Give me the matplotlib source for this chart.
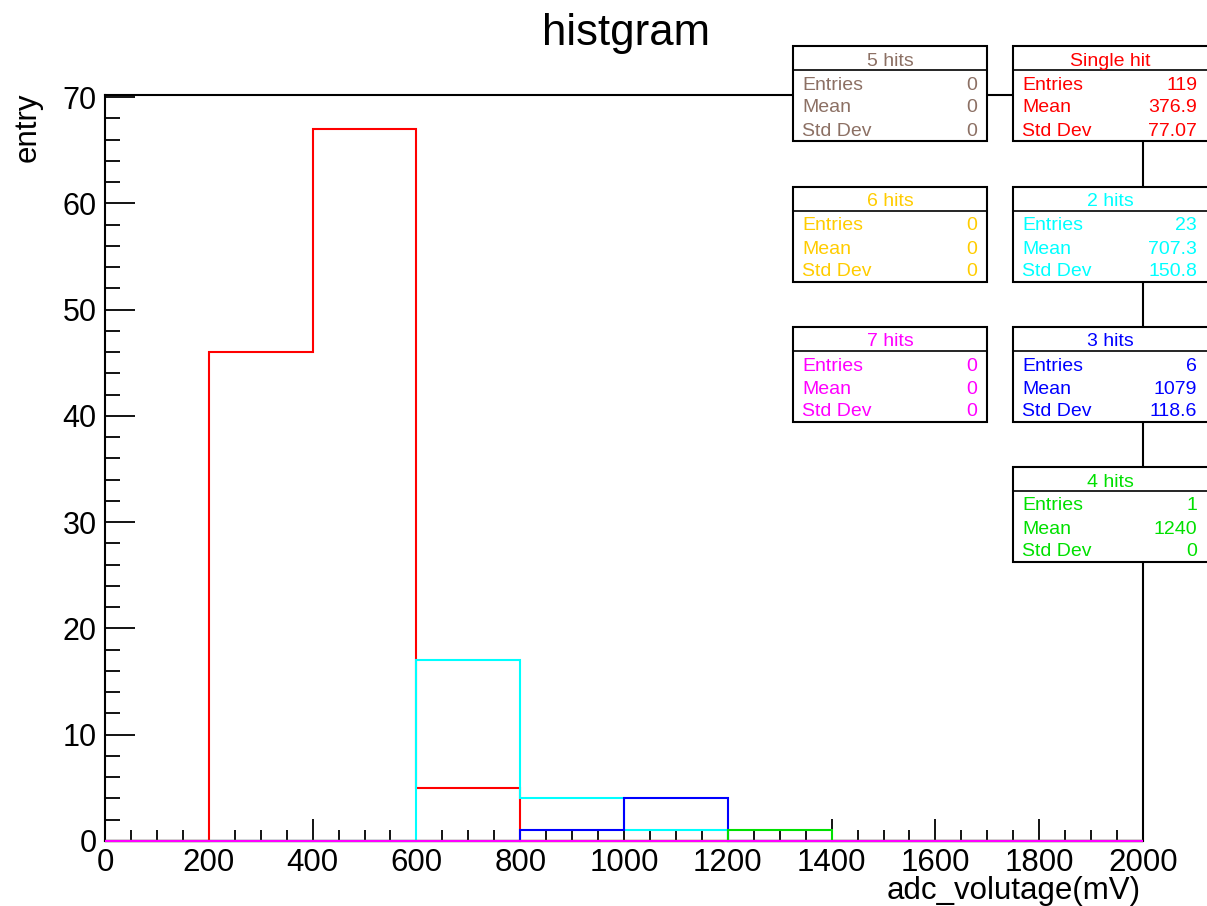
import numpy as np
import matplotlib
matplotlib.use("Agg")
import matplotlib.pyplot as plt
from matplotlib.patches import Rectangle
from matplotlib.lines import Line2D
from matplotlib.ticker import MultipleLocator

plt.rcParams['font.family'] = ['Liberation Sans', 'DejaVu Sans']

# bin edges (mV) and counts per hit multiplicity
edges = np.arange(0, 2001, 200)
single_hit = [0, 46, 67, 5, 0, 0, 0, 0, 0, 0]
hits_2 = [0, 0, 0, 17, 4, 1, 0, 0, 0, 0]
hits_3 = [0, 0, 0, 0, 1, 4, 0, 0, 0, 0]
hits_4 = [0, 0, 0, 0, 0, 0, 1, 0, 0, 0]
hits_5 = [0] * 10
hits_6 = [0] * 10
hits_7 = [0] * 10

names = ["Single hit", "2 hits", "3 hits", "4 hits", "5 hits", "6 hits", "7 hits"]
colors = ["#ff0000", "#00ffff", "#0000ff", "#00e000", "#8c7064", "#ffcc00", "#ff00ff"]
series = [single_hit, hits_2, hits_3, hits_4, hits_5, hits_6, hits_7]
entries = ["119", "23", "6", "1", "0", "0", "0"]
means = ["376.9", "707.3", "1079", "1240", "0", "0", "0"]
stddevs = ["77.07", "150.8", "118.6", "0", "0", "0", "0"]

W, H = 1207, 906
fig = plt.figure(figsize=(W / 100, H / 100), dpi=100)


def fx(x):
    return x / W


def fy(y):
    return 1 - y / H


ax = fig.add_axes([fx(105), fy(841), fx(1143) - fx(105), fy(95) - fy(841)])

for vals, c in zip(series, colors):
    ax.stairs(vals, edges, color=c, lw=1.5, zorder=3, clip_on=False)

ax.set_xlim(0, 2000)
ax.set_ylim(0, 70.2)
ax.xaxis.set_major_locator(MultipleLocator(200))
ax.xaxis.set_minor_locator(MultipleLocator(50))
ax.yaxis.set_major_locator(MultipleLocator(10))
ax.yaxis.set_minor_locator(MultipleLocator(2))
ax.tick_params(axis='x', which='major', direction='in', length=15.6, width=1.3, labelsize=22.5, pad=5)
ax.tick_params(axis='x', which='minor', direction='in', length=7.9, width=1.3)
ax.tick_params(axis='y', which='major', direction='in', length=21.6, width=1.3, labelsize=22, pad=6)
ax.tick_params(axis='y', which='minor', direction='in', length=10.8, width=1.3)
for sp in ax.spines.values():
    sp.set_linewidth(1.5)

fig.text(fx(1141), fy(899), "adc_volutage(mV)", ha='right', va='baseline', fontsize=22.5)
fig.text(fx(28), fy(92), "entry", ha='center', va='top', rotation=90, fontsize=22.5)
fig.text(fx(626), fy(45), "histgram", ha='center', va='baseline', fontsize=31.5)

# stats boxes: (column x0, x1), top y
left_col = (793, 987)
right_col = (1013, 1209)
box_pos = {
    "Single hit": (right_col, 46),
    "2 hits": (right_col, 187),
    "3 hits": (right_col, 327),
    "4 hits": (right_col, 467),
    "5 hits": (left_col, 46),
    "6 hits": (left_col, 187),
    "7 hits": (left_col, 327),
}
box_h = 95

for name, c, ent, mn, sd in zip(names, colors, entries, means, stddevs):
    (x0, x1), top = box_pos[name]
    fig.add_artist(Rectangle((fx(x0), fy(top + box_h)), fx(x1) - fx(x0), fy(top) - fy(top + box_h),
                             transform=fig.transFigure, facecolor='white', edgecolor='black',
                             lw=1.5, zorder=5))
    fig.add_artist(Line2D([fx(x0), fx(x1)], [fy(top + 24), fy(top + 24)],
                          transform=fig.transFigure, color='black', lw=1.2, zorder=6))
    fig.text(fx((x0 + min(x1, 1207)) / 2), fy(top + 15), name,
             ha='center', va='center', color=c, fontsize=14, zorder=7)
    for i, (lab, val) in enumerate([("Entries", ent), ("Mean", mn), ("Std Dev", sd)]):
        yy = fy(top + 39 + 23 * i)
        fig.text(fx(x0 + 9), yy, lab, ha='left', va='center', color=c, fontsize=14, zorder=7)
        fig.text(fx(x0 + 184), yy, val, ha='right', va='center', color=c, fontsize=14, zorder=7)

fig.savefig("out.png", dpi=100)
